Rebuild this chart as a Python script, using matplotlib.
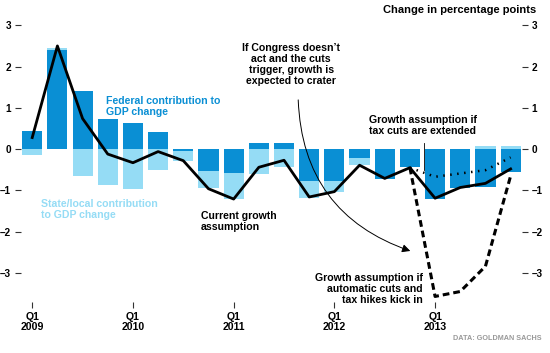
import numpy as np
import matplotlib.pyplot as plt

plt.rcParams['font.family'] = ['Liberation Sans Narrow', 'Liberation Sans', 'DejaVu Sans']
plt.rcParams['font.weight'] = 'bold'

# quarters 2009 Q1 .. 2013 Q4
quarters = ["Q1\n2009", "", "", "", "Q1\n2010", "", "", "", "Q1\n2011", "", "", "",
            "Q1\n2012", "", "", "", "Q1\n2013", "", "", ""]
federal = [0.43, 2.39, 1.41, 0.73, 0.64, 0.42, -0.05, -0.53, -0.59, 0.15,
           0.16, -0.77, -0.77, -0.21, -0.72, -0.44, -1.20, -0.95, -0.92, -0.56]
state = [-0.14, 0.06, -0.65, -0.88, -0.97, -0.51, -0.23, -0.42, -0.62, -0.60,
         -0.43, -0.42, -0.26, -0.18, 0.0, 0.0, 0.0, 0.0, 0.08, 0.08]
growth = [0.28, 2.50, 0.74, -0.12, -0.33, -0.06, -0.28, -0.96, -1.21, -0.44,
          -0.27, -1.16, -1.03, -0.39, -0.71, -0.45, -1.19, -0.93, -0.83, -0.48]
# scenarios start from 2012 Q4
tax_ext = [-0.45, -0.67, -0.59, -0.51, -0.20]
auto_cuts = [-0.45, -3.57, -3.45, -2.84, -0.65]

dark = '#0a8fd4'
light = '#95dcf5'

x = np.arange(len(federal))
fed = np.array(federal)
st = np.array(state)
# state stacks below federal when both negative, above when positive
st_bottom = np.where((st < 0) & (fed < 0), fed, 0.0)
st_bottom = np.where((st > 0) & (fed > 0), fed, st_bottom)

fig = plt.figure(figsize=(5.5, 3.53), dpi=100)
ax = fig.add_axes([0.038, 0.145, 0.911, 0.795])

ax.bar(x, fed, width=0.8, color=dark, zorder=2)
ax.bar(x, st, bottom=st_bottom, width=0.8, color=light, zorder=2)
ax.plot(x, growth, color='black', lw=2.0, zorder=4)
xs = x[15:]
ax.plot(xs, tax_ext, color='black', lw=1.8, ls=(0, (0.6, 2.2)), zorder=4)
ax.plot(xs, auto_cuts, color='black', lw=2.2, ls=(0, (2.2, 1.3)), zorder=4)

ax.set_xlim(-0.45, 19.45)
ax.set_ylim(-3.7, 3.1)
for s in ax.spines.values():
    s.set_visible(False)

yt = [3, 2, 1, 0, -1, -2, -3]
ax.set_yticks(yt)
ax.set_yticklabels([str(v).replace('-', '\u2013') for v in yt])
ax.tick_params(axis='y', which='both', left=True, right=True, labelleft=True,
               labelright=True, length=4, width=0.8, pad=3, labelsize=7.2,
               color='#333333')
ax.set_xticks(x[::4])
ax.set_xticklabels(quarters[::4], linespacing=1.0)
ax.tick_params(axis='x', length=4, width=0.8, pad=3, labelsize=7.6, color='#333333')

fs = 7.6
ax.text(2.94, 1.28, "Federal contribution to\nGDP change", color=dark,
        fontsize=fs, va='top', ha='left', linespacing=1.15)
ax.text(0.36, -1.2, "State/local contribution\nto GDP change", color=light,
        fontsize=fs, va='top', ha='left', linespacing=1.15)
ax.text(6.7, -1.5, "Current growth\nassumption", color='black',
        fontsize=fs, va='top', ha='left', linespacing=1.15)
ax.text(10.28, 2.58, "If Congress doesn\u2019t\nact and the cuts\ntrigger, growth is\nexpected to crater",
        color='black', fontsize=fs, va='top', ha='center', linespacing=1.15)
ax.text(13.37, 0.82, "Growth assumption if\ntax cuts are extended", color='black',
        fontsize=fs, va='top', ha='left', linespacing=1.15)
ax.text(15.52, -3.0, "Growth assumption if\nautomatic cuts and\ntax hikes kick in",
        color='black', fontsize=fs, va='top', ha='right', linespacing=1.15)

ax.plot([15.56, 15.56], [0.14, -0.51], color='black', lw=0.6, zorder=5)
ax.annotate("", xy=(15.12, -2.49), xytext=(10.56, 1.26),
            arrowprops=dict(arrowstyle='-|>', color='black', lw=0.7,
                            connectionstyle='arc3,rad=0.35', mutation_scale=12))

fig.text(0.975, 0.985, "Change in percentage points", ha='right', va='top',
         fontsize=8, color='black')
fig.text(0.984, 0.04, "DATA: GOLDMAN SACHS", ha='right', va='center',
         fontsize=5.2, color='#999999')

fig.savefig('out.png', dpi=100)
